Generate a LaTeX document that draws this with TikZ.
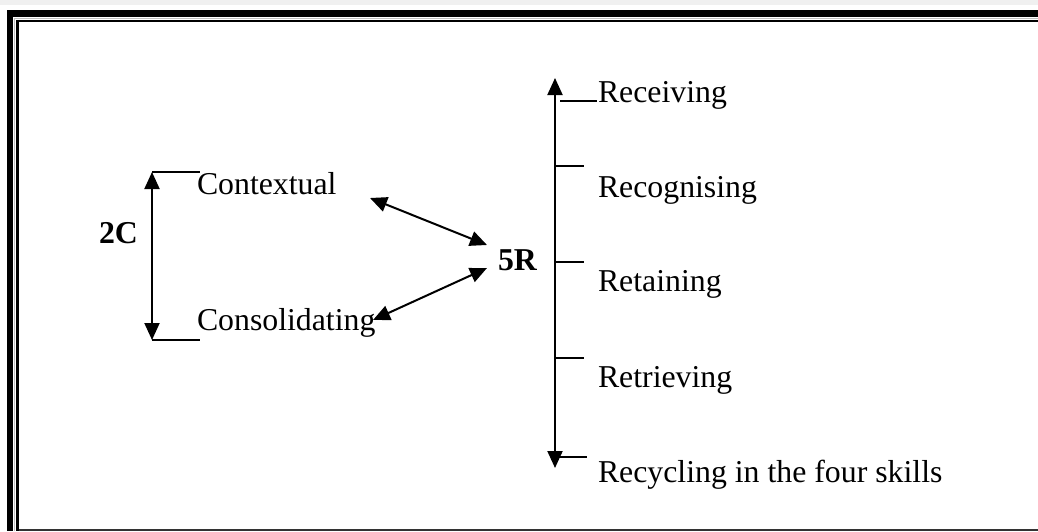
\documentclass[tikz,border=0pt]{standalone}
\usepackage{fontspec}
\setmainfont{Liberation Serif}
\usetikzlibrary{arrows.meta}

\begin{document}
\begin{tikzpicture}[
                    x=1pt, y=-1pt,
                    line width=2pt,
                    every node/.style={font=\fontsize{31.8}{38}\selectfont, inner sep=0pt, anchor=base west},
                    twohead/.style={{Triangle[length=17pt,width=15pt]}-{Triangle[length=17pt,width=15pt]}},
                    frame/.style={fill=black}
                ]
                  \useasboundingbox (0,0) rectangle (1038,531);
                  \fill[black!6] (0,0) rectangle (1038,5);
                  \fill[frame] (7,10) rectangle (1038,17);
                  \fill[frame] (7,10) rectangle (13,531);
                  \fill[black!25] (14,18) rectangle (1038,19);
                  \fill[black!25] (14,18) rectangle (15,531);
                  \fill[frame] (16,20) rectangle (1038,22);
                  \fill[frame] (16,20) rectangle (19,531);
                  \fill[black!80] (19,529) rectangle (1038,531);

                  \node (twoc) at (98,243) {\textbf{2C}};
                  \node (ctx) at (196,194) {Contextual};
                  \node (cons) at (196,330) {Consolidating};
                  \node (fiver) at (497,270) {\textbf{5R}};
                  \node (recv) at (597,102) {Receiving};
                  \node (recg) at (597,197) {Recognising};
                  \node (reta) at (597,291) {Retaining};
                  \node (retr) at (597,387) {Retrieving};
                  \node (recy) at (597,482) {Recycling in the four skills};

                  \coordinate (ctop) at (152,172);
                  \coordinate (cbot) at (152,340);
                  \coordinate (ctopend) at (200,172);
                  \coordinate (cbotend) at (200,340);
                  \draw[twohead] (ctop) -- (cbot);
                  \draw (ctop) -- (ctopend);
                  \draw (cbot) -- (cbotend);

                  \coordinate (ctxend) at (370,198);
                  \coordinate (fivertop) at (487,245);
                  \coordinate (fiverbot) at (487,268);
                  \coordinate (consend) at (373,320);
                  \draw[twohead] (ctxend) -- (fivertop);
                  \draw[twohead] (fiverbot) -- (consend);

                  \coordinate (rtop) at (555,78);
                  \coordinate (rbot) at (555,468);
                  \draw[twohead] (rtop) -- (rbot);
                  \coordinate (recvtick) at (560,101);
                  \coordinate (recgtick) at (555,166);
                  \coordinate (retatick) at (555,262);
                  \coordinate (retrtick) at (555,358);
                  \coordinate (recytick) at (555,457);
                  \draw (recvtick) -- (recv.base west |- recvtick);
                  \draw (recgtick) -- ++(29,0);
                  \draw (retatick) -- ++(29,0);
                  \draw (retrtick) -- ++(29,0);
                  \draw (recytick) -- ++(32,0);
                \end{tikzpicture}
\end{document}
